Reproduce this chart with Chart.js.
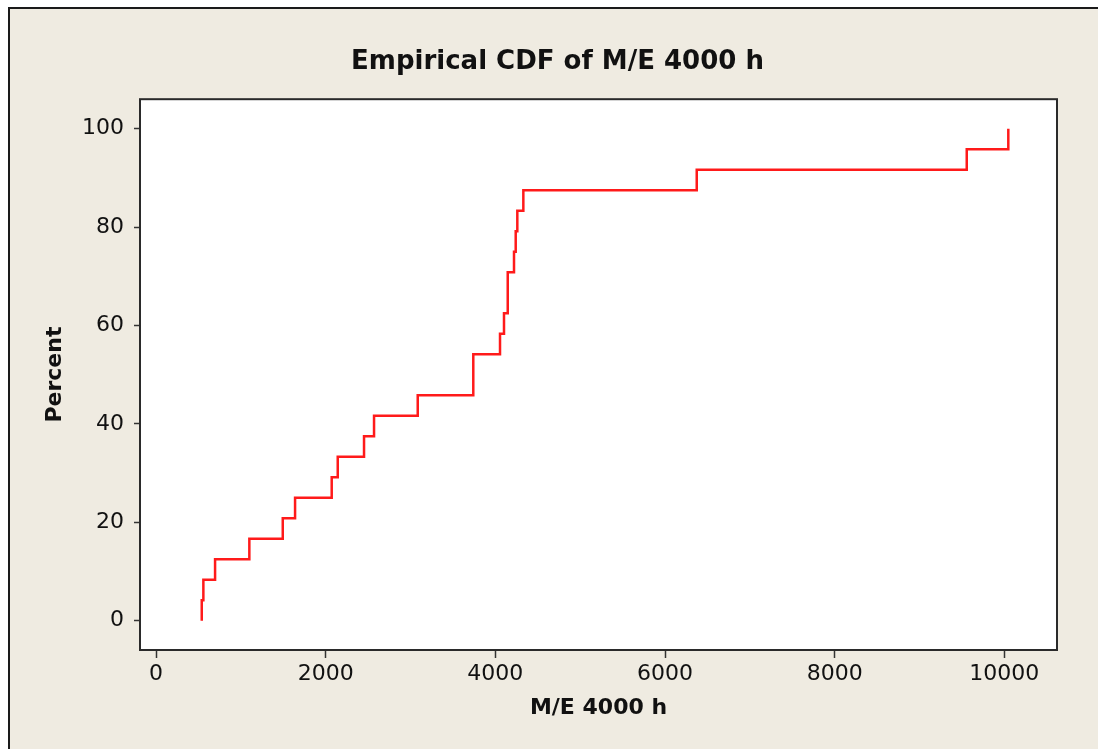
<!DOCTYPE html>
<html>
<head>
<meta charset="utf-8">
<script src="https://cdn.jsdelivr.net/npm/chart.js@4.4.1/dist/chart.umd.min.js"></script>
<style>
  body { margin: 0; background: #fff; }
  canvas { display: block; }
</style>
</head>
<body>
<canvas id="cdfChart" width="1098" height="749"></canvas>
<script>
const hours = [539, 558, 696, 1100, 1494, 1639, 2071, 2142, 2452, 2570, 3085, 3740,
  3740, 4055, 4102, 4146, 4146, 4220, 4240, 4259, 4330, 6374, 9557, 10047];
// cumulative percent after each observation
const percent = [4.17, 8.33, 12.5, 16.67, 20.83, 25, 29.17, 33.33, 37.5, 41.67, 45.83, 50,
  54.17, 58.33, 62.5, 66.67, 70.83, 75, 79.17, 83.33, 87.5, 91.67, 95.83, 100];
const xTicks = [0, 2000, 4000, 6000, 8000, 10000];
const yTicks = [0, 20, 40, 60, 80, 100];

const points = [{ x: hours[0], y: 0 }].concat(hours.map((h, i) => ({ x: h, y: percent[i] })));

const frame = {
  id: 'frame',
  beforeDraw(chart) {
    const c = chart.ctx;
    const a = chart.chartArea;
    c.save();
    c.fillStyle = '#ffffff';
    c.fillRect(0, 0, chart.width, chart.height);
    c.fillStyle = '#efebe1';
    c.fillRect(9, 8, chart.width - 9, chart.height - 8);
    c.strokeStyle = '#1a1a1a';
    c.lineWidth = 2;
    c.beginPath();
    c.moveTo(9, chart.height);
    c.lineTo(9, 8);
    c.lineTo(chart.width, 8);
    c.stroke();
    c.fillStyle = '#ffffff';
    c.fillRect(a.left, a.top, a.right - a.left, a.bottom - a.top);
    c.restore();
  },
  afterDraw(chart) {
    const c = chart.ctx;
    const a = chart.chartArea;
    c.save();
    c.strokeStyle = '#2a2a2a';
    c.lineWidth = 2;
    c.strokeRect(a.left, a.top, a.right - a.left, a.bottom - a.top);
    c.restore();
  }
};

const ctx = document.getElementById('cdfChart').getContext('2d');
const cdfChart = new Chart(ctx, {
  type: 'line',
  data: {
    datasets: [
      {
        label: 'M/E 4000 h',
        data: points,
        stepped: 'before',
        borderColor: '#ff1a1a',
        borderWidth: 2.5,
        pointRadius: 0,
        fill: false,
      },
    ],
  },
  options: {
    responsive: false,
    animation: false,
    layout: { padding: { left: 58, right: 41, top: 0, bottom: 0 } },
    plugins: {
      legend: { display: false },
      tooltip: { enabled: false },
      title: {
        display: true,
        text: 'Empirical CDF of M/E 4000 h',
        color: '#111',
        font: { family: 'DejaVu Sans', size: 26, weight: 'bold', lineHeight: 1.2 },
        padding: { top: 47, bottom: 21 },
      },
    },
    scales: {
      x: {
        type: 'linear',
        min: -189,
        max: 10621,
        afterBuildTicks: (axis) => { axis.ticks = xTicks.map((v) => ({ value: v })); },
        afterFit: (axis) => { axis.height = 99; },
        grid: { drawOnChartArea: false, tickLength: 8, tickColor: '#333', tickWidth: 1.5 },
        border: { display: false },
        ticks: {
          color: '#111',
          padding: 3,
          maxRotation: 0,
          font: { family: 'DejaVu Sans', size: 22 },
          callback: (v) => String(v),
        },
        title: {
          display: true,
          text: 'M/E 4000 h',
          color: '#111',
          font: { family: 'DejaVu Sans', size: 22, weight: 'bold', lineHeight: 1.2 },
          padding: { top: 0, bottom: 28 },
        },
      },
      y: {
        type: 'linear',
        min: -5.94,
        max: 106,
        afterBuildTicks: (axis) => { axis.ticks = yTicks.map((v) => ({ value: v })); },
        afterFit: (axis) => { axis.width = 82; },
        grid: { drawOnChartArea: false, tickLength: 6, tickColor: '#333', tickWidth: 1.5 },
        border: { display: false },
        ticks: {
          color: '#111',
          padding: 10,
          font: { family: 'DejaVu Sans', size: 22 },
          callback: (v) => String(v),
        },
        title: {
          display: true,
          text: 'Percent',
          color: '#111',
          font: { family: 'DejaVu Sans', size: 22, weight: 'bold', lineHeight: 1.2 },
          padding: { top: -16, bottom: 0 },
        },
      },
    },
  },
  plugins: [frame],
});
</script>
</body>
</html>
